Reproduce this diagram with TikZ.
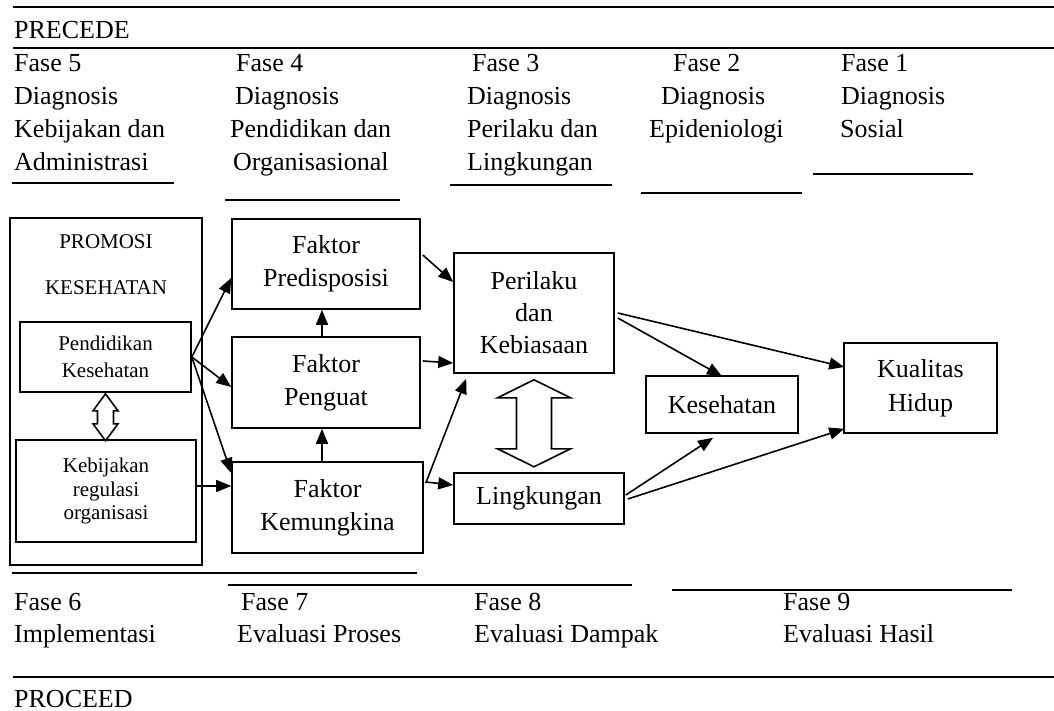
\documentclass[tikz,border=0pt]{standalone}
\usepackage{fontspec}
\setmainfont{Liberation Serif}
\usetikzlibrary{arrows.meta,calc}
\begin{document}
\begin{tikzpicture}[x=1pt,y=-1pt,
  box/.style={draw, line width=1.6pt, inner sep=0pt, align=center},
  bigtxt/.style={font=\fontsize{26}{33}\selectfont},
  smalltxt/.style={font=\fontsize{21}{27}\selectfont},
  txt/.style={anchor=base west, inner sep=0pt, font=\fontsize{26}{33}\selectfont},
  conn/.style={line width=1.6pt, -{Triangle[length=15pt,width=12pt]}},
  rule/.style={line width=2pt},
  uline/.style={line width=1.6pt},
  dbl/.style={line width=1.6pt, fill=white, line join=miter}
]
\useasboundingbox (0,0) rectangle (1054,711);

% horizontal rules
\draw[rule] (13,7) -- (1054,7);
\draw[rule] (13,48) -- (1054,48);
\draw[rule] (13,677) -- (1054,677);

% underlines of phase columns
\draw[uline] (12,183) -- (174,183);
\draw[uline] (225,200) -- (400,200);
\draw[uline] (450,185) -- (612,185);
\draw[uline] (641,193) -- (802,193);
\draw[uline] (813,174) -- (973,174);
\draw[uline] (12,573) -- (417,573);
\draw[uline] (228,585) -- (632,585);
\draw[uline] (672,590) -- (1012,590);

% texts
\foreach \x/\y/\t [count=\i] in {
  14/39/PRECEDE,
  14/72/Fase 5, 14/105/Diagnosis, 14/138/Kebijakan dan, 14/171/Administrasi,
  236/72/Fase 4, 235/105/Diagnosis, 230/138/Pendidikan dan, 233/171/Organisasional,
  472/72/Fase 3, 467/105/Diagnosis, 467/138/Perilaku dan, 467/171/Lingkungan,
  673/72/Fase 2, 661/105/Diagnosis, 649/138/Epideniologi,
  841/72/Fase 1, 841/105/Diagnosis, 840/138/Sosial,
  14/610/Fase 6, 14/642/Implementasi,
  241/610/Fase 7, 237/642/Evaluasi Proses,
  474/610/Fase 8, 474/642/Evaluasi Dampak,
  783/610/Fase 9, 783/642/Evaluasi Hasil,
  14/707/PROCEED}
  \node[txt] (t\i) at (\x,\y) {\t};

% left block
\node[box, minimum width=192pt, minimum height=347pt] (promo) at (106,391.5) {};
\node[inner sep=0pt, smalltxt] (promot) at (106,242) {PROMOSI};
\node[inner sep=0pt, smalltxt] (kesht) at (106,288) {KESEHATAN};
\node[box, smalltxt, minimum width=171pt, minimum height=70pt] (pend) at (105.5,357) {Pendidikan\\Kesehatan};
\node[box, font=\fontsize{21}{23.5}\selectfont, minimum width=180pt, minimum height=102pt] (kebij) at (106,491) {Kebijakan\\regulasi\\organisasi};

% factor boxes
\node[box, bigtxt, minimum width=188pt, minimum height=90pt] (pred) at (326,264) {Faktor\\Predisposisi};
\node[box, bigtxt, minimum width=188pt, minimum height=91pt] (peng) at (326,382.5) {Faktor\\Penguat};
\node[box, bigtxt, minimum width=191pt, minimum height=91pt] (kem) at (327.5,507.5) {Faktor\\Kemungkina};

% right boxes
\node[box, font=\fontsize{26}{32}\selectfont, minimum width=160pt, minimum height=120pt] (peril) at (534,313) {Perilaku\\dan\\Kebiasaan};
\node[box, bigtxt, minimum width=170pt, minimum height=51pt] (lingk) at (539,498.5) {Lingkungan};
\node[box, bigtxt, minimum width=152pt, minimum height=57pt] (kes) at (722,404.5) {Kesehatan};
\node[box, font=\fontsize{26}{34}\selectfont, minimum width=153pt, minimum height=90pt] (kual) at (920.5,388) {Kualitas\\Hidup};

% double arrows
\draw[dbl] ($(pend.south)+(0,1)$) -- ++(12.5,17) -- ++(-4.5,0) -- ++(0,13) -- ++(4.5,0)
  -- ++(-12.5,17) -- ++(-12.5,-17) -- ++(4.5,0) -- ++(0,-13) -- ++(-4.5,0) -- cycle;
\draw[dbl] ($(peril.south)+(0,6)$) -- ++(36.5,18) -- ++(-19,0) -- ++(0,51) -- ++(19,0)
  -- ++(-36.5,18) -- ++(-36.5,-18) -- ++(19,0) -- ++(0,-51) -- ++(-19,0) -- cycle;

% connectors
\draw[conn] (pend.east) -- ($(pred.west)+(0,14)$);
\draw[conn] (pend.east) -- ($(peng.west)+(0,4.5)$);
\draw[conn] (pend.east) -- ($(kem.west)+(0,-34.5)$);
\draw[conn] ($(kebij.east)+(0,-5)$) -- ($(kem.west)+(0,-21.5)$);
\draw[conn] ($(peng.north)+(-4,0)$) -- ($(pred.south)+(-4,0)$);
\draw[conn] ($(kem.north)+(-5.5,0)$) -- ($(peng.south)+(-4,0)$);
\draw[conn] ($(pred.east)+(2,-9)$) -- ($(peril.west)+(0,-31)$);
\draw[conn] ($(peng.east)+(2,-21.5)$) -- ($(peril.west)+(0,50)$);
\draw[conn] ($(kem.east)+(2,-24.5)$) -- ($(peril.south west)+(13,5)$);
\draw[conn] ($(kem.east)+(2,-25.5)$) -- ($(lingk.west)+(0,-13.5)$);
\draw[conn] ($(peril.east)+(3,0)$) -- ($(kual.west)+(1,-21)$);
\draw[conn] ($(peril.east)+(3,5)$) -- ($(kes.north)+(0,1)$);
\draw[conn] ($(lingk.east)+(1,-3.5)$) -- ($(kes.south)+(-9,4)$);
\draw[conn] ($(lingk.east)+(3,0.5)$) -- ($(kual.south west)+(1,-5)$);
\end{tikzpicture}
\end{document}
